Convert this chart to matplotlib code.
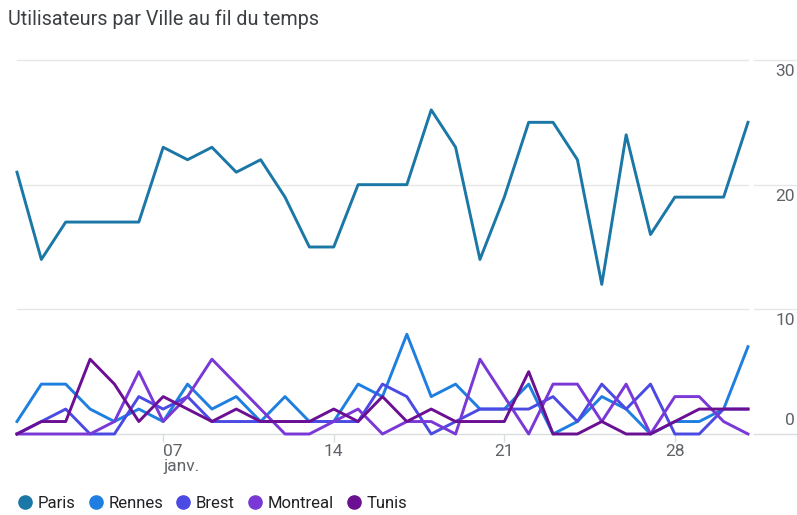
import matplotlib
matplotlib.use('Agg')
import matplotlib.pyplot as plt
from matplotlib.lines import Line2D
import pandas as pd

plt.rcParams['font.family'] = ['Roboto', 'DejaVu Sans']

# daily users per city, January
dates = pd.date_range('2024-01-01', '2024-01-31', freq='D')
paris = [21, 14, 17, 17, 17, 17, 23, 22, 23, 21, 22, 19, 15, 15, 20, 20,
         20, 26, 23, 14, 19, 25, 25, 22, 12, 24, 16, 19, 19, 19, 25]
rennes = [1, 4, 4, 2, 1, 2, 1, 4, 2, 3, 1, 3, 1, 1, 4, 3,
          8, 3, 4, 2, 2, 4, 0, 1, 3, 2, 0, 1, 1, 2, 7]
brest = [0, 1, 2, 0, 0, 3, 2, 3, 1, 1, 1, 1, 1, 1, 1, 4,
         3, 0, 1, 2, 2, 2, 3, 1, 4, 2, 4, 0, 0, 2, 2]
montreal = [0, 0, 0, 0, 1, 5, 1, 3, 6, 4, 2, 0, 0, 1, 2, 0,
            1, 1, 0, 6, 3, 0, 4, 4, 1, 4, 0, 3, 3, 1, 0]
tunis = [0, 1, 1, 6, 4, 1, 3, 2, 1, 2, 1, 1, 1, 2, 1, 3,
         1, 2, 1, 1, 1, 5, 0, 0, 1, 0, 0, 1, 2, 2, 2]

cities = ['Paris', 'Rennes', 'Brest', 'Montreal', 'Tunis']
colors = ['#1b77a6', '#1e7fe0', '#4b4ae3', '#7a38d6', '#6b0f93']
series = [paris, rennes, brest, montreal, tunis]

y_ticks = [0, 10, 20, 30]
x_ticks = pd.to_datetime(['2024-01-07', '2024-01-14', '2024-01-21', '2024-01-28'])
x_labels = ['07\njanv.', '14', '21', '28']

fig = plt.figure(figsize=(7.97, 5.15), dpi=100)
ax = fig.add_axes([0.0213, 0.1573, 0.9172, 0.7262])

for name, vals, col in zip(cities, series, colors):
    ax.plot(dates, vals, color=col, lw=2.1, clip_on=False)

ax.set_xlim(dates[0], dates[-1])
ax.set_ylim(0, 30)

for s in ax.spines.values():
    s.set_visible(False)

# y axis: gridlines, a short segment past a gap, labels on the right
ax.set_yticks([])
ytr = ax.get_yaxis_transform()
for v in y_ticks:
    gcol = '#dadce0' if v == 0 else '#e6e6e6'
    ax.plot([0, 1], [v, v], color=gcol, lw=1.0, transform=ytr, zorder=0, clip_on=False)
    ax.plot([1.0085, 1.07], [v, v], color=gcol, lw=1.0, transform=ytr, zorder=0, clip_on=False)
    if v == 0:
        ax.annotate(str(v), (1.0643, v), xycoords=ytr, xytext=(0, 4),
                    textcoords='offset points', ha='right', va='bottom',
                    fontsize=12.5, color='#5f6368')
    else:
        ax.annotate(str(v), (1.0643, v), xycoords=ytr, xytext=(0, -3),
                    textcoords='offset points', ha='right', va='top',
                    fontsize=12.5, color='#5f6368')

ax.set_xticks(x_ticks)
ax.set_xticklabels(x_labels, color='#5f6368', fontsize=12.5, linespacing=1.0)
ax.tick_params(axis='x', length=6, color='#dadce0', width=1, pad=1)
lab0 = ax.get_xticklabels()[0]
lab0.set_ha('left')
lab0.set_multialignment('left')

fig.text(0.01, 0.963, 'Utilisateurs par Ville au fil du temps', fontsize=14.2,
         color='#3c4043', ha='left', va='center')

handles = [Line2D([], [], marker='o', ls='none', color=c, markersize=9.5) for c in colors]
fig.legend(handles, cities, loc='center left', bbox_to_anchor=(0.0, 0.022),
           ncol=5, frameon=False, fontsize=12, handletextpad=0.15,
           columnspacing=0.62, handlelength=1.2, labelcolor='#202124')

plt.savefig('out.png', dpi=100)
